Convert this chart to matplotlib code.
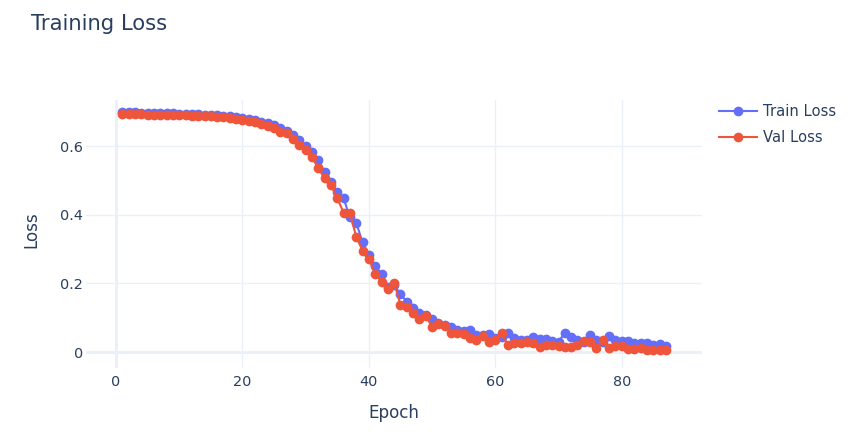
import matplotlib.pyplot as plt

plt.rcParams['font.family'] = ['DejaVu Sans']

epochs = list(range(1, 88))

train_loss = [0.700, 0.699, 0.698, 0.697, 0.697, 0.696, 0.696, 0.695, 0.695, 0.694,
              0.694, 0.693, 0.692, 0.691, 0.690, 0.689, 0.687, 0.686, 0.684, 0.681,
              0.678, 0.675, 0.671, 0.666, 0.660, 0.652, 0.645, 0.633, 0.618, 0.600,
              0.582, 0.560, 0.525, 0.496, 0.467, 0.448, 0.392, 0.377, 0.319, 0.283,
              0.251, 0.227, 0.188, 0.195, 0.168, 0.147, 0.127, 0.113, 0.107, 0.095,
              0.085, 0.079, 0.072, 0.065, 0.062, 0.064, 0.050, 0.050, 0.052, 0.042,
              0.045, 0.056, 0.040, 0.035, 0.035, 0.043, 0.038, 0.038, 0.033, 0.030,
              0.056, 0.045, 0.035, 0.030, 0.050, 0.035, 0.030, 0.047, 0.035, 0.032,
              0.032, 0.025, 0.027, 0.025, 0.020, 0.022, 0.017]

val_loss = [0.692, 0.692, 0.692, 0.692, 0.691, 0.691, 0.691, 0.690, 0.690, 0.690,
            0.689, 0.688, 0.688, 0.687, 0.686, 0.685, 0.684, 0.682, 0.680, 0.677,
            0.674, 0.671, 0.665, 0.659, 0.653, 0.641, 0.638, 0.621, 0.603, 0.587,
            0.569, 0.535, 0.506, 0.486, 0.448, 0.406, 0.404, 0.336, 0.295, 0.271,
            0.227, 0.205, 0.183, 0.202, 0.137, 0.130, 0.115, 0.095, 0.105, 0.074,
            0.082, 0.076, 0.055, 0.054, 0.052, 0.042, 0.035, 0.048, 0.030, 0.035,
            0.056, 0.020, 0.025, 0.027, 0.030, 0.027, 0.015, 0.020, 0.020, 0.018,
            0.015, 0.016, 0.020, 0.033, 0.028, 0.013, 0.035, 0.013, 0.017, 0.017,
            0.010, 0.010, 0.012, 0.006, 0.006, 0.006, 0.006]

txt = '#2a3f5f'
grid = '#ebf0f8'

fig = plt.figure(figsize=(8.53, 4.48), dpi=100)
ax = fig.add_axes([86/853, 80/448, 616/853, 268/448])

ax.plot(epochs, train_loss, '-o', color='#636efa', lw=1.5, ms=6, label='Train Loss', zorder=3)
ax.plot(epochs, val_loss, '-o', color='#ef553b', lw=1.5, ms=6, label='Val Loss', zorder=4)

ax.set_xlim(-4.75, 92.7)
ax.set_ylim(-0.0466, 0.734)
ax.set_xticks([0, 20, 40, 60, 80])
ax.set_yticks([0, 0.2, 0.4, 0.6])
ax.set_yticklabels(['0', '0.2', '0.4', '0.6'])
ax.grid(True, color=grid, lw=1)
ax.axhline(0, color=grid, lw=2, zorder=1)
ax.axvline(0, color=grid, lw=2, zorder=1)
ax.set_axisbelow(True)
for s in ax.spines.values():
    s.set_visible(False)
ax.tick_params(length=0, labelsize=10.4, labelcolor=txt)
ax.tick_params(axis='x', pad=5)
ax.tick_params(axis='y', pad=2)

ax.set_xlabel('Epoch', fontsize=12.1, color=txt)
ax.set_ylabel('Loss', fontsize=12.1, color=txt)
ax.xaxis.set_label_coords(0.5, -0.167)
ax.yaxis.set_label_coords(-0.0893, 0.515)
ax.xaxis.label.set_va('center')
ax.yaxis.label.set_va('center')

fig.text(31/853, 1 - 24/448, 'Training Loss', fontsize=15.2, color=txt, va='center', ha='left')

fig.legend(loc='upper left', bbox_to_anchor=(719/853, 1 - 104/448), frameon=False,
           fontsize=10.6, labelcolor=txt, handlelength=2.6, handletextpad=0.42,
           labelspacing=0.78, borderpad=0, borderaxespad=0)

fig.savefig('out.png', dpi=100, facecolor='white')
